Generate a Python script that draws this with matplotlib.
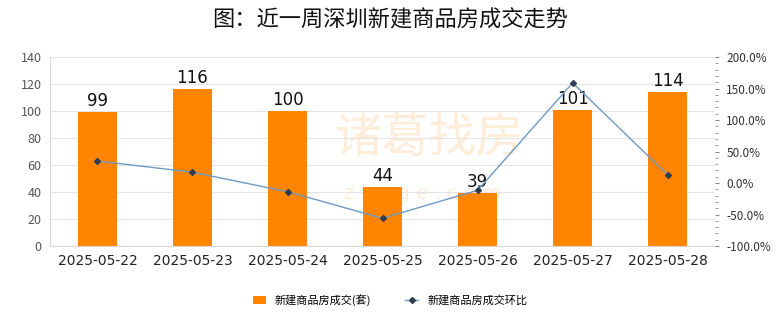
import matplotlib.pyplot as plt
from matplotlib.ticker import MultipleLocator, FuncFormatter

plt.rcParams['font.family'] = ['Noto Sans CJK SC', 'DejaVu Sans']

# --- data ---
dates = ["2025-05-22", "2025-05-23", "2025-05-24", "2025-05-25",
         "2025-05-26", "2025-05-27", "2025-05-28"]
deals = [99, 116, 100, 44, 39, 101, 114]
mom_pct = [35.0, 17.2, -13.8, -56.0, -11.4, 159.0, 12.9]

bar_color = "#FF8500"
line_color = "#6E9AC4"
grid_color = "#E4E4E4"

fig = plt.figure(figsize=(7.8, 3.28), dpi=100)
ax = fig.add_axes([0.064, 0.25, 0.853, 0.576])
ax2 = ax.twinx()

# faint watermark, drawn under the bars
ax.text(0.57, 0.57, "诸葛找房", transform=ax.transAxes, fontsize=34, color=bar_color,
        alpha=0.15, ha="center", va="center", zorder=1)
ax.text(0.56, 0.28, "z h u g e . c o m", transform=ax.transAxes, fontsize=14,
        color=bar_color, alpha=0.15, ha="center", va="center",
        family=["DejaVu Sans"], zorder=1)

x = list(range(len(dates)))
ax.bar(x, deals, width=0.41, color=bar_color, zorder=2, label="新建商品房成交(套)")
for xi, v in zip(x, deals):
    ax.text(xi, v + 1.5, str(v), ha="center", va="bottom", fontsize=12, color="#111111",
            family=["DejaVu Sans"], zorder=5)

ax2.plot(x, mom_pct, color=line_color, lw=1.0, marker="D", markersize=3,
         markerfacecolor="#2F3E4E", markeredgecolor="#2F3E4E", zorder=4,
         label="新建商品房成交环比")

ax.set_xlim(-0.5, len(dates) - 0.5)
ax.set_ylim(0, 140)
ax.yaxis.set_major_locator(MultipleLocator(20))
ax.set_xticks(x)
ax.set_xticklabels(dates, fontsize=10, color="#222222", family=["DejaVu Sans"])
ax.tick_params(axis="x", length=0, pad=6)
ax.tick_params(axis="y", length=0, labelsize=9, labelcolor="#555555", pad=6)
ax.grid(axis="y", color=grid_color, lw=0.8, zorder=0)

ax2.set_ylim(-100, 200)
ax2.yaxis.set_major_locator(MultipleLocator(50))
ax2.yaxis.set_minor_locator(MultipleLocator(10))
ax2.yaxis.set_major_formatter(FuncFormatter(lambda v, p: f"{v:.1f}%"))
ax2.tick_params(axis="y", which="major", length=3, color="#888888", labelsize=8.5,
                labelcolor="#333333", pad=5)
ax2.tick_params(axis="y", which="minor", length=2, color="#888888")

for a in (ax, ax2):
    for s in a.spines.values():
        s.set_visible(False)
ax.spines["left"].set_visible(True)
ax.spines["left"].set_color("#D8D8D8")
ax.spines["bottom"].set_visible(True)
ax.spines["bottom"].set_color("#D8D8D8")

fig.suptitle("图：近一周深圳新建商品房成交走势", fontsize=16, y=0.975, color="#111111")

h1, l1 = ax.get_legend_handles_labels()
h2, l2 = ax2.get_legend_handles_labels()
fig.legend(h1 + h2, l1 + l2, loc="center", bbox_to_anchor=(0.5, 0.085), ncol=2,
           frameon=False, fontsize=8, handlelength=1.2, handleheight=0.7,
           columnspacing=3)

plt.savefig("out.png", dpi=100)
